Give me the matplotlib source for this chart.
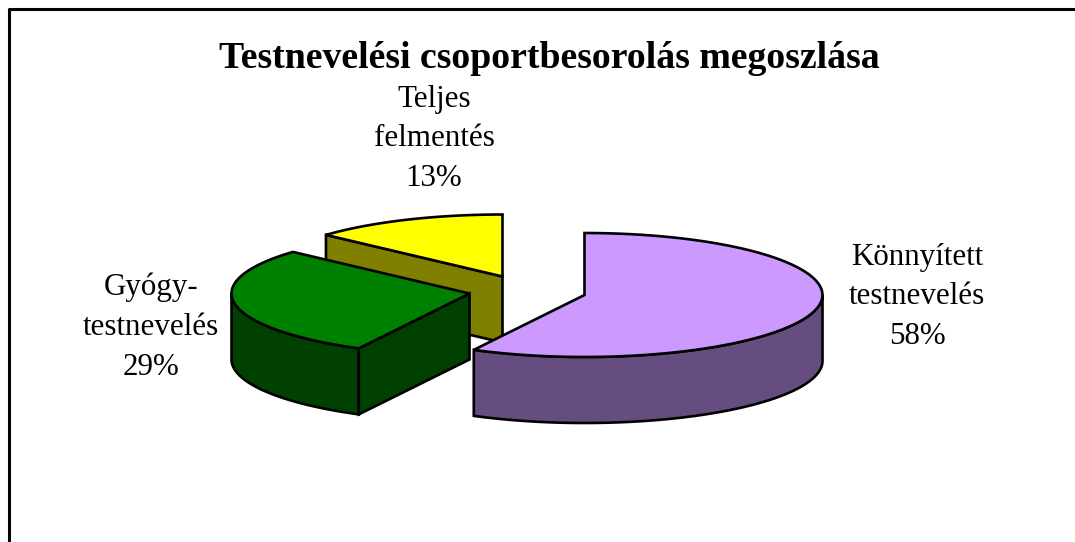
import numpy as np
import matplotlib
matplotlib.use("Agg")
import matplotlib.pyplot as plt
from matplotlib.patches import Polygon

plt.rcParams['font.family'] = ['Liberation Serif', 'DejaVu Serif']

title = "Testnevelési csoportbesorolás megoszlása"
labels = ["Könnyített\ntestnevelés\n58%", "Gyógy-\ntestnevelés\n29%", "Teljes\nfelmentés\n13%"]
values = [57.7, 29.0, 13.3]
top_colors = ["#CC99FF", "#008000", "#FFFF00"]
side_colors = ["#664D80", "#004000", "#808000"]

# pie centres after the explode, pixels
centers = [(584.5, 295), (469.5, 293.5), (502.5, 276.5)]
label_pos = [(917, 297), (151, 327), (434, 139)]
rx, ry = 238, 62
depth = 66
lw = 1.9


def pt(c, a):
    # angle in degrees, clockwise from 12 o'clock
    r = np.radians(a)
    return c[0] + rx * np.sin(r), c[1] - ry * np.cos(r)


def arc(c, a0, a1):
    aa = np.linspace(a0, a1, 80)
    return np.column_stack(pt(c, aa))


def shape(ax, pts, color):
    ax.add_patch(Polygon(pts, closed=True, fc=color, ec="black", lw=lw, joinstyle="miter"))


fig = plt.figure(figsize=(10.75, 5.42), dpi=100)
ax = fig.add_axes([0, 0, 1, 1])
ax.set_xlim(0, 1075)
ax.set_ylim(542, 0)
ax.axis("off")

# frame, cut off at the bottom and right
ax.plot([9, 9, 1080], [545, 9, 9], color="black", lw=2.2)

ends = np.cumsum(values) / sum(values) * 360
starts = ends - np.array(values) / sum(values) * 360
down = np.array([0, depth])

# yellow (back), then green, then purple on top
c = centers[2]
p = np.array(pt(c, starts[2]))
shape(ax, [c, p, p + down, np.array(c) + down], side_colors[2])
shape(ax, np.vstack([[c], arc(c, starts[2], ends[2])]), top_colors[2])

c = centers[1]
rim = arc(c, starts[1], 270)
shape(ax, np.vstack([rim, (rim + down)[::-1]]), side_colors[1])
p = np.array(pt(c, starts[1]))
shape(ax, [c, p, p + down, np.array(c) + down], side_colors[1])
shape(ax, np.vstack([[c], arc(c, starts[1], ends[1])]), top_colors[1])

c = centers[0]
rim = arc(c, 90, ends[0])
shape(ax, np.vstack([rim, (rim + down)[::-1]]), side_colors[0])
shape(ax, np.vstack([[c], arc(c, starts[0], ends[0])]), top_colors[0])

for lab, (x, y) in zip(labels, label_pos):
    ax.text(x, y, lab, ha="center", va="center", fontsize=22.3, linespacing=1.49)

ax.text(549, 58.5, title, ha="center", va="center", fontsize=27.15, fontweight="bold")

fig.savefig("out.png", dpi=100)
